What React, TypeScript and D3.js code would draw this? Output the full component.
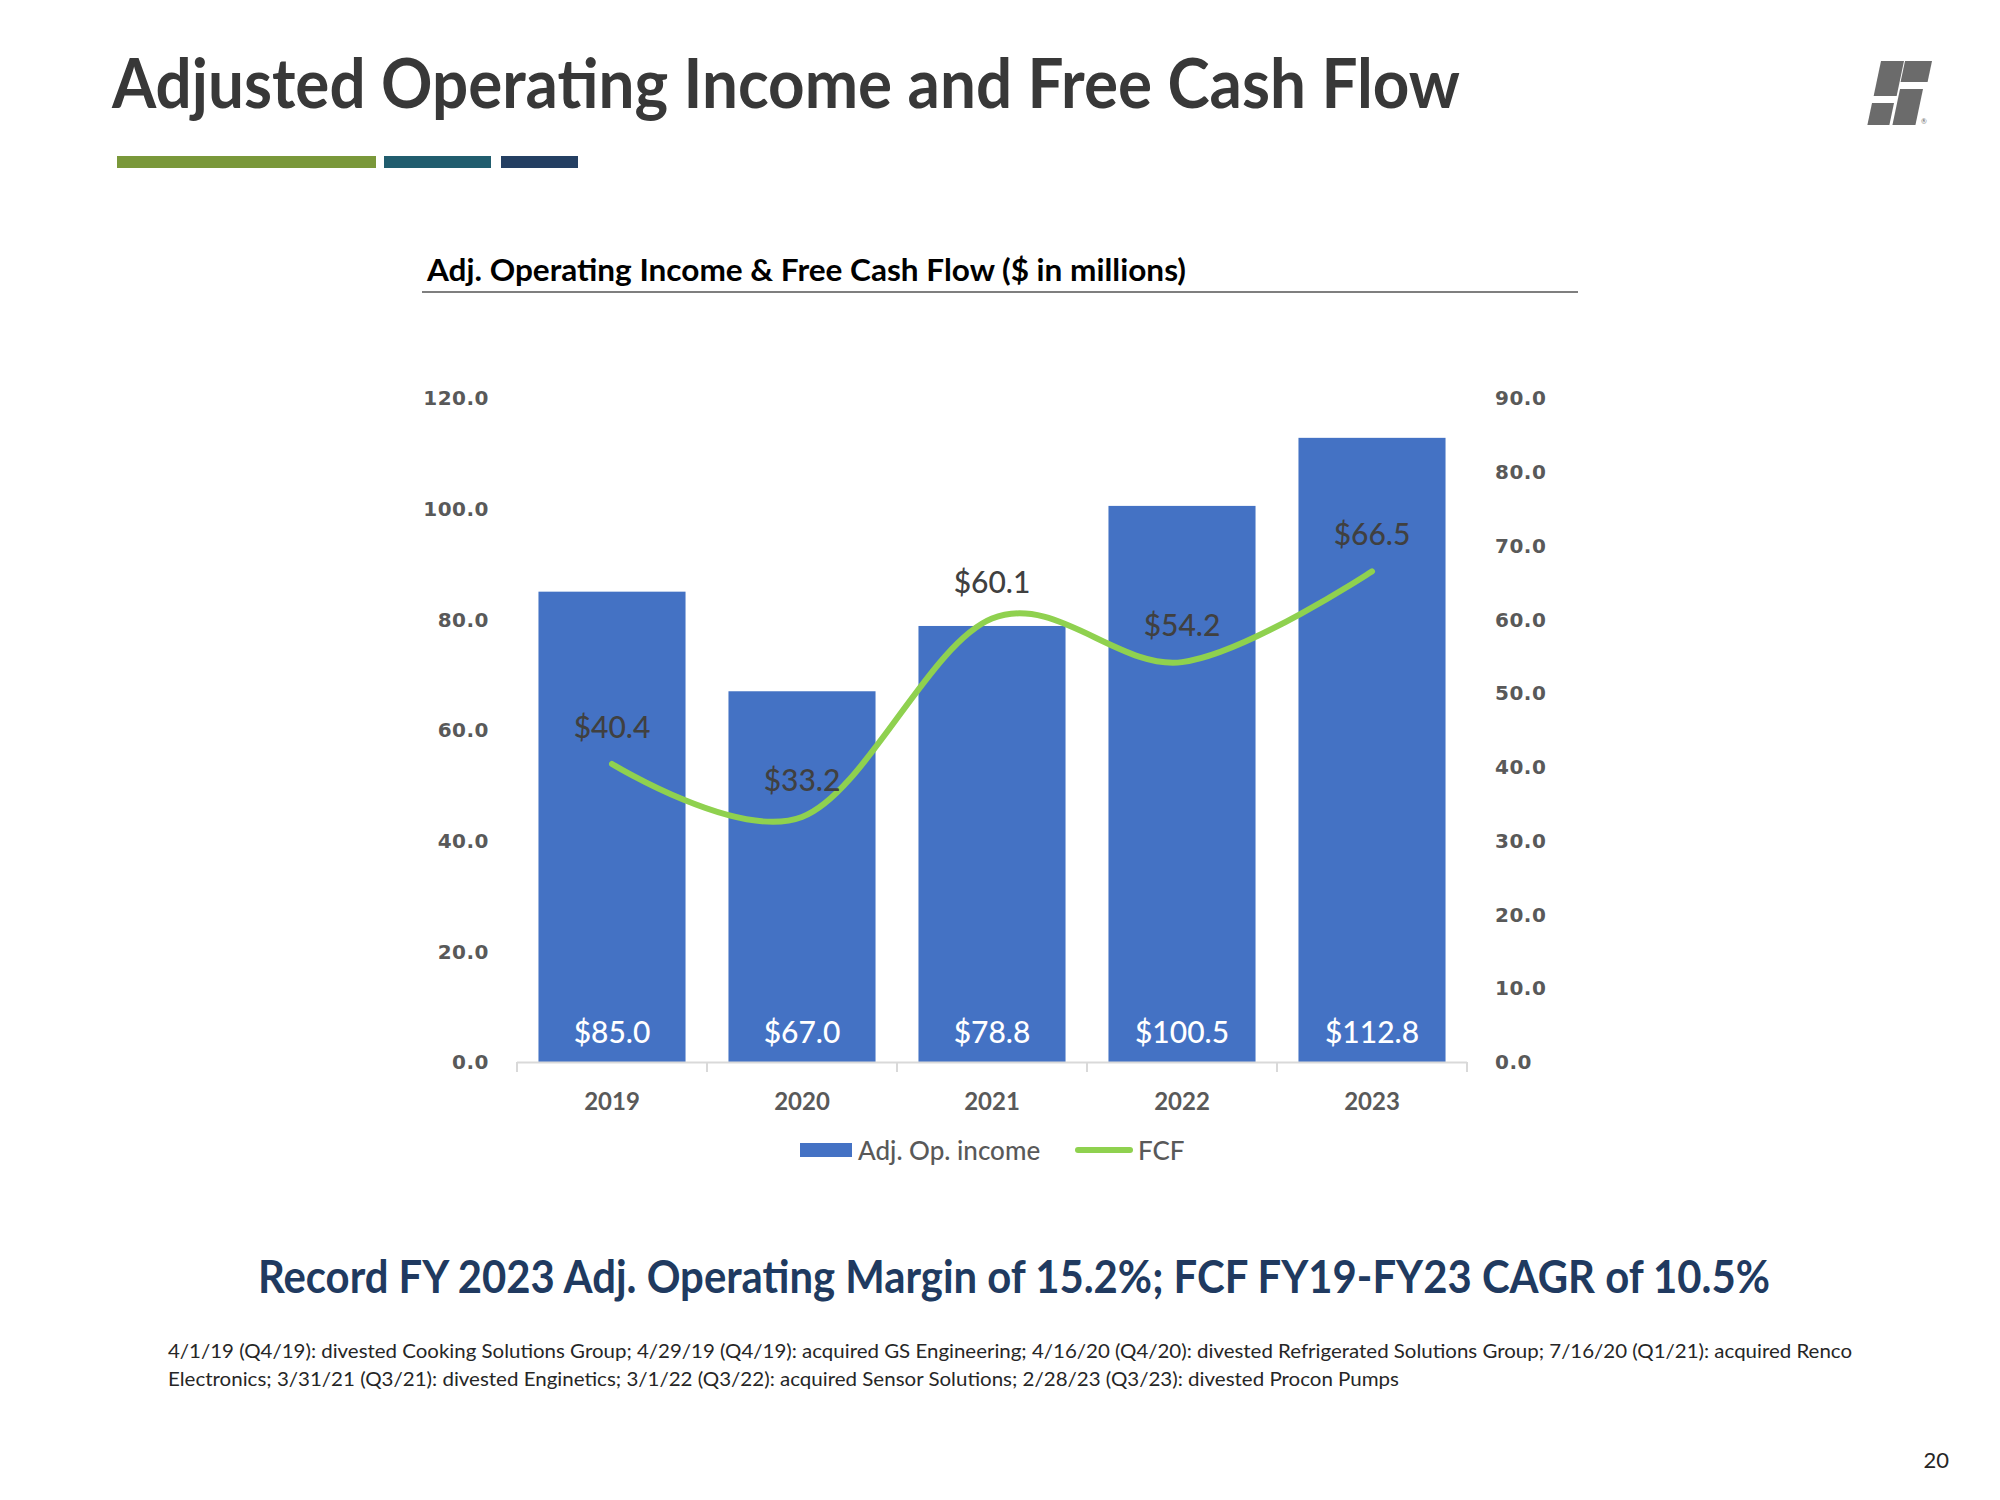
import React from "react";
import * as d3 from "d3";

const years = ["2019", "2020", "2021", "2022", "2023"];
const adjOpIncome = [85.0, 67.0, 78.8, 100.5, 112.8];
const fcf = [40.4, 33.2, 60.1, 54.2, 66.5];
const leftTicks = [0, 20, 40, 60, 80, 100, 120];
const rightTicks = [0, 10, 20, 30, 40, 50, 60, 70, 80, 90];
const footnotes = [
  "4/1/19 (Q4/19): divested Cooking Solutions Group; 4/29/19 (Q4/19): acquired GS Engineering; 4/16/20 (Q4/20): divested Refrigerated Solutions Group; 7/16/20 (Q1/21): acquired Renco",
  "Electronics; 3/31/21 (Q3/21): divested Enginetics; 3/1/22 (Q3/22): acquired Sensor Solutions; 2/28/23 (Q3/23): divested Procon Pumps",
];

const FONT = "Lato, 'Noto Sans', sans-serif";
const AXISFONT = "'DejaVu Sans', Verdana, sans-serif";

export default function App() {
  const x0 = 517, x1 = 1467, yBase = 1062, yTop = 398;
  const x = d3.scaleBand<string>().domain(years).range([x0, x1]).paddingInner(0.226).paddingOuter(0.113);
  const yL = d3.scaleLinear().domain([0, 120]).range([yBase, yTop]);
  const yR = d3.scaleLinear().domain([0, 90]).range([yBase, yTop]);
  const cx = (d: string) => (x(d) as number) + x.bandwidth() / 2;
  const pts: [number, number][] = years.map((yr, i) => [cx(yr), yR(fcf[i])]);
  const line = d3.line().curve(d3.curveCatmullRom.alpha(0))(pts) || "";
  const step = x.step();
  const boundaries = d3.range(years.length + 1).map((i) => x0 + i * step);

  const slant = 0.21;
  const para = (xl: number, y0: number, y1: number, w: number) => {
    const h = y1 - y0;
    return `M${xl},${y0}L${xl + w},${y0}L${xl + w - h * slant},${y1}L${xl - h * slant},${y1}Z`;
  };

  return (
    <svg width={2000} height={1500} style={{ position: "absolute", left: 0, top: 0, background: "#fff" }}>
      <rect x={0} y={0} width={2000} height={1500} fill="#fff" />
      {/* Title */}
      <text x={112} y={108} fontFamily={FONT} fontSize={68} fontWeight={700} fill="#383838" textLength={1348} lengthAdjust="spacingAndGlyphs">
        Adjusted Operating Income and Free Cash Flow
      </text>
      <rect x={117} y={156} width={259} height={12} fill="#7a983a" />
      <rect x={384} y={156} width={107} height={12} fill="#215d6e" />
      <rect x={501} y={156} width={77} height={12} fill="#243f62" />
      {/* Logo */}
      <g fill="#6b6b6b">
        <path d={para(1881, 61, 96, 23)} />
        <path d={para(1905, 61, 82, 27)} />
        <path d={para(1872, 103, 125, 22)} />
        <path d={para(1900, 89, 125, 23)} />
        <text x={1921} y={124} fontSize={7} fontFamily={FONT} fill="#6b6b6b">®</text>
      </g>
      {/* Subtitle */}
      <text x={427} y={281} fontFamily={FONT} fontSize={30} fontWeight={700} fill="#000" textLength={759} lengthAdjust="spacingAndGlyphs">
        Adj. Operating Income &amp; Free Cash Flow ($ in millions)
      </text>
      <line x1={422} x2={1578} y1={292} y2={292} stroke="#7f7f7f" strokeWidth={2} />

      {/* Left axis labels */}
      {leftTicks.map((t) => (
        <text key={"l" + t} x={489} y={yL(t)} dy="0.36em" textAnchor="end" fontFamily={AXISFONT} fontSize={20} fontWeight={700} fill="#595959" letterSpacing={0.5}>
          {t.toFixed(1)}
        </text>
      ))}
      {/* Right axis labels */}
      {rightTicks.map((t) => (
        <text key={"r" + t} x={1495} y={yR(t)} dy="0.36em" textAnchor="start" fontFamily={AXISFONT} fontSize={20} fontWeight={700} fill="#595959" letterSpacing={0.5}>
          {t.toFixed(1)}
        </text>
      ))}

      {/* Bars */}
      {years.map((yr, i) => (
        <rect key={yr} x={x(yr)} y={yL(adjOpIncome[i])} width={x.bandwidth()} height={yBase - yL(adjOpIncome[i])} fill="#4472c4" />
      ))}
      {/* X axis */}
      <line x1={x0} x2={x1} y1={yBase + 0.5} y2={yBase + 0.5} stroke="#d9d9d9" strokeWidth={2} />
      {boundaries.map((b, i) => (
        <line key={"tk" + i} x1={b} x2={b} y1={yBase} y2={yBase + 10} stroke="#d9d9d9" strokeWidth={2} />
      ))}
      {years.map((yr) => (
        <text key={"xl" + yr} x={cx(yr)} y={1110} textAnchor="middle" fontFamily={FONT} fontSize={24} fontWeight={700} fill="#595959">
          {yr}
        </text>
      ))}
      {/* Bar value labels */}
      {years.map((yr, i) => (
        <text key={"bv" + yr} x={cx(yr)} y={1043} textAnchor="middle" fontFamily={FONT} fontSize={30} fontWeight={500} fill="#fff">
          {"$" + adjOpIncome[i].toFixed(1)}
        </text>
      ))}
      {/* FCF line */}
      <path d={line} fill="none" stroke="#8fd14f" strokeWidth={6} strokeLinecap="round" />
      {years.map((yr, i) => (
        <text key={"fv" + yr} x={cx(yr)} y={yR(fcf[i]) - 26} textAnchor="middle" fontFamily={FONT} fontSize={30} fontWeight={500} fill="#404040">
          {"$" + fcf[i].toFixed(1)}
        </text>
      ))}

      {/* Legend */}
      <rect x={800} y={1143} width={52} height={14} fill="#4472c4" />
      <text x={858} y={1160} fontFamily={FONT} fontSize={26} fontWeight={500} fill="#595959">Adj. Op. income</text>
      <line x1={1078} x2={1130} y1={1150} y2={1150} stroke="#8fd14f" strokeWidth={6} strokeLinecap="round" />
      <text x={1138} y={1160} fontFamily={FONT} fontSize={26} fontWeight={500} fill="#595959">FCF</text>

      {/* Highlight */}
      <text x={258} y={1293} fontFamily={FONT} fontSize={45} fontWeight={700} fill="#203a60" textLength={1512} lengthAdjust="spacingAndGlyphs">
        Record FY 2023 Adj. Operating Margin of 15.2%; FCF FY19-FY23 CAGR of 10.5%
      </text>
      {/* Footnotes */}
      <text x={168} y={1358} fontFamily={FONT} fontSize={20} fill="#262626" textLength={1684} lengthAdjust="spacingAndGlyphs">
        {footnotes[0]}
      </text>
      <text x={168} y={1386} fontFamily={FONT} fontSize={20} fill="#262626" textLength={1231} lengthAdjust="spacingAndGlyphs">
        {footnotes[1]}
      </text>
      {/* Page number */}
      <text x={1949} y={1468} textAnchor="end" fontFamily={FONT} fontSize={22} fill="#262626">20</text>
    </svg>
  );
}
